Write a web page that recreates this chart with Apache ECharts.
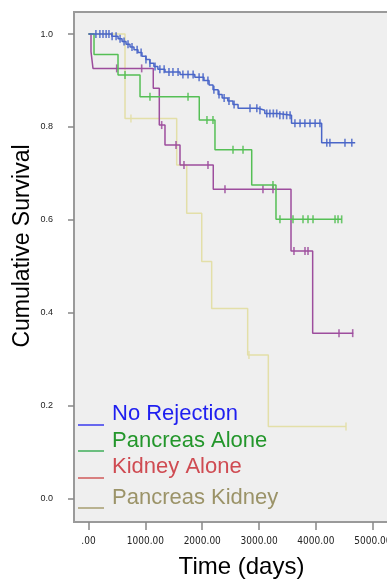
<!DOCTYPE html>
<html><head><meta charset="utf-8">
<script src="https://cdn.jsdelivr.net/npm/echarts@6/dist/echarts.min.js"></script>
<style>html,body{margin:0;padding:0;background:#fff}#c{width:387px;height:585px}</style>
</head><body><div id="c"></div>
<script>
// Kaplan-Meier steps: [time (days), cumulative survival after the event]
const noRejection = [[0,1.0],[410,0.995],[520,0.99],[590,0.984],[660,0.978],[730,0.972],[800,0.966],[870,0.96],[940,0.952],[1010,0.945],[1080,0.937],[1150,0.93],[1220,0.924],[1345,0.918],[1610,0.913],[1870,0.907],[2030,0.9],[2120,0.89],[2190,0.88],[2280,0.87],[2350,0.862],[2450,0.856],[2540,0.848],[2630,0.84],[2980,0.836],[3100,0.829],[3330,0.825],[3570,0.808],[4100,0.766],[4690,0.766]];
const pancreasAlone = [[0,1.0],[97,0.956],[519,0.912],[906,0.865],[1948,0.815],[2224,0.751],[2870,0.675],[3297,0.601],[4452,0.601]];
const kidneyAlone = [[0,1.0],[44,0.962],[79,0.926],[1139,0.883],[1245,0.804],[1345,0.761],[1609,0.718],[2194,0.666],[3561,0.533],[3942,0.356],[4656,0.356]];
const pancreasKidney = [[0,1.0],[642,0.818],[1551,0.718],[1727,0.614],[1991,0.51],[2166,0.409],[2799,0.309],[3162,0.155],[4528,0.155]];
// censored observation times (days)
const censorNoRejection = [130,200,255,310,360,415,485,555,625,695,765,855,925,1010,1080,1170,1255,1330,1415,1485,1575,1660,1750,1840,1945,2015,2100,2205,2295,2385,2470,2560,2840,2960,3015,3135,3190,3250,3310,3365,3425,3485,3545,3630,3720,3805,3895,3985,4070,4190,4245,4510,4630];
const censorPancreasAlone = [642,1081,1750,2083,2189,2541,2717,3244,3367,3596,3772,3860,3948,4335,4388,4452];
const censorKidneyAlone = [496,935,1287,1539,1679,2101,2400,3068,3244,3613,3807,3860,4405,4646];
const censorPancreasKidney = [747,2822,4528];
const seriesNames = ['No Rejection','Pancreas Alone','Kidney Alone','Pancreas Kidney'];
const xTicks = [0,1000,2000,3000,4000,5000];
const yTicks = [0,0.2,0.4,0.6,0.8,1.0];

const lineColors = ['#4a66c8','#55bf55','#9d4d9d','#e3dfa8'];
const legendText = ['#1e1ef0','#23962b','#cf4b52','#9b9368'];
const legendLine = ['#3a3aee','#3fae5a','#d05a5a','#a79e70'];
const curves = [noRejection,pancreasAlone,kidneyAlone,pancreasKidney];
const censors = [censorNoRejection,censorPancreasAlone,censorKidneyAlone,censorPancreasKidney];

function stepValue(curve,t){let v=curve[0][1];for(const p of curve){if(p[0]<=t)v=p[1];}return v;}

const series=[];
curves.forEach((c,i)=>{
  series.push({name:seriesNames[i],type:'line',step:'end',data:c,showSymbol:false,z:10-i,
    lineStyle:{color:lineColors[i],width:1.5},itemStyle:{color:lineColors[i]},silent:true});
  series.push({name:seriesNames[i]+' censored',type:'scatter',data:censors[i].map(t=>[t,stepValue(c,t)]),
    symbol:'rect',symbolSize:[1.6,8],z:10-i,itemStyle:{color:lineColors[i],opacity:0.85},silent:true});
});

const legendGraphics=[];
const legY=[414,441,467,498];
const lineY=[425,451,478,508];
seriesNames.forEach((n,i)=>{
  legendGraphics.push({type:'line',shape:{x1:78,y1:lineY[i],x2:104,y2:lineY[i]},style:{stroke:legendLine[i],lineWidth:1.5},z:100});
  legendGraphics.push({type:'text',x:112,y:legY[i],style:{text:n,fill:legendText[i],font:'22px "Liberation Sans", Arial, sans-serif',textVerticalAlign:'middle'},z:100});
});

const chart=echarts.init(document.getElementById('c'),null,{renderer:'canvas'});
chart.setOption({
  animation:false,
  backgroundColor:'#ffffff',
  grid:{left:74,top:12,width:330,height:510,outerBoundsMode:'none',containLabel:false,show:true,backgroundColor:'#efefef',borderColor:'#9a9a9a',borderWidth:2},
  xAxis:{type:'value',min:-255,max:5548,
    name:'Time (days)',nameLocation:'middle',nameGap:33,
    nameTextStyle:{fontSize:24,color:'#000',fontFamily:'"Liberation Sans", Arial, sans-serif',padding:[0,0,0,5]},
    axisLine:{show:true,onZero:false,lineStyle:{color:'#9a9a9a',width:2}},
    axisTick:{show:true,customValues:xTicks,length:8,lineStyle:{color:'#888',width:1.5}},
    axisLabel:{customValues:xTicks,margin:14,fontSize:10,color:'#222',fontFamily:'"DejaVu Sans Condensed","Liberation Sans",sans-serif',
      formatter:v=>v===0?'.00':v.toFixed(2)},
    splitLine:{show:false}},
  yAxis:{type:'value',min:-0.0506,max:1.0474,
    name:'Cumulative Survival',nameLocation:'middle',nameGap:40,nameRotate:90,nameMoveOverlap:false,
    nameTextStyle:{fontSize:23,color:'#000',fontFamily:'"Liberation Sans", Arial, sans-serif',padding:[0,0,0,42]},
    axisLine:{show:true,onZero:false,lineStyle:{color:'#9a9a9a',width:2}},
    axisTick:{show:true,customValues:yTicks,length:6,lineStyle:{color:'#888',width:1.5}},
    axisLabel:{customValues:yTicks,margin:21,fontSize:9,color:'#222',fontFamily:'"Liberation Sans", Arial, sans-serif',
      formatter:v=>v.toFixed(1)},
    splitLine:{show:false}},
  series:series,
  graphic:legendGraphics
});
</script></body></html>
